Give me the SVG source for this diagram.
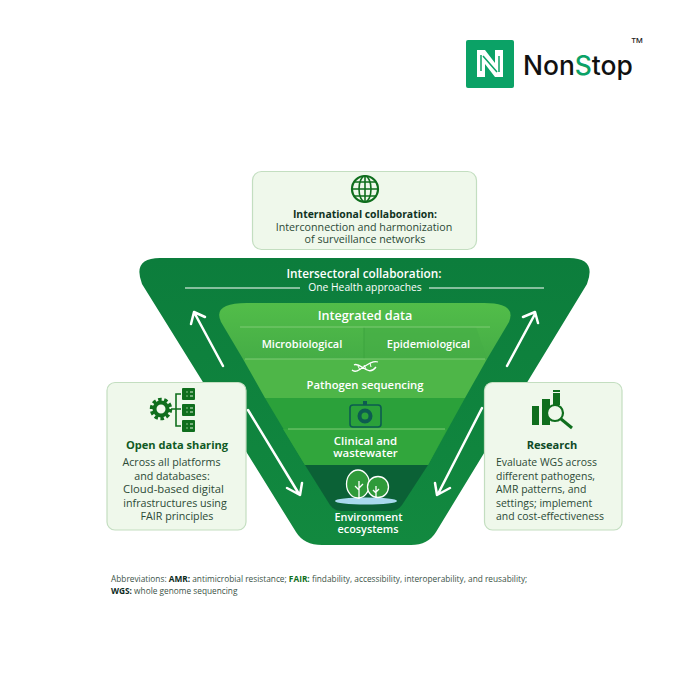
<svg xmlns="http://www.w3.org/2000/svg" width="682" height="686" viewBox="0 0 682 686">
<style>
text{font-family:"Open Sans","Noto Sans","Liberation Sans",sans-serif;text-anchor:middle}
.card{fill:#eff8eb;stroke:#c3dec0;stroke-width:1.2}
.ct{font-size:11.1px;font-weight:700;fill:#0f5a24}
.cb{font-size:10.7px;fill:#2c4a36}
.rs{font-size:10.45px;text-anchor:start}
.w{fill:#fff;font-weight:600}
.arrow{fill:none;stroke:#fff;stroke-width:2.5;stroke-linecap:round;stroke-linejoin:round}
.rule{stroke:#fff;stroke-width:1.2}
.sep{stroke:#7fcb74;stroke-width:1}
.ic{fill:none;stroke:#0f6e1d;stroke-width:1.6}
.srv{fill:#0f6e1d}
.ab{font-size:8.3px;text-anchor:start;fill:#3b5347}
.abb{font-weight:700;fill:#0c2a1c}
</style>
<defs>
<linearGradient id="outer" x1="0" y1="0" x2="0" y2="1"><stop offset="0" stop-color="#0c7d3c"/><stop offset="1" stop-color="#12893f"/></linearGradient>
<linearGradient id="top" x1="0" y1="0" x2="0" y2="1"><stop offset="0" stop-color="#52bd49"/><stop offset="1" stop-color="#45ad46"/></linearGradient>
<g id="srvd"><path d="M8 4H11M8 8H11" stroke="#dff0dc" stroke-width="1"/><path d="M4 4H6M4 8H6" stroke="#8cc58c" stroke-width="1"/></g>
</defs>
<rect width="682" height="686" fill="#fff"/>
<g id="logo">
<rect x="466" y="40" width="48" height="48" rx="2" fill="#0ba266"/>
<path d="M477 50H485L495 63V50H503V77H495L485 64V77H477Z" fill="#fff"/>
<path d="M481 55V71M499 56V72M483 56 497 72" fill="none" stroke="#0ba266" stroke-width="1.500"/>
<text x="523" y="75" font-size="26.400" font-weight="500" fill="#111" style="text-anchor:start;font-family:Inter,'Liberation Sans',sans-serif">Non<tspan fill="#0ba266">S</tspan>top</text>
<text x="637" y="47" font-size="13" fill="#222" style="font-family:'Liberation Sans',sans-serif">™</text>
</g>
<g id="intersectoral">
<path d="M160 258H569Q597 258 587 284L436 532Q428 545 411 545H322Q304 545 296 532L142 284Q132 258 160 258Z" fill="url(#outer)"/>
<text class="w" x="364" y="278" font-size="11.800">Intersectoral collaboration:</text>
<text x="365" y="291" font-size="10.300" fill="#fff">One Health approaches</text>
<path class="rule" d="M185 288H300M429 288H544"/>
</g>
<g id="environment">
<path d="M305 465H428L402 505Q398 511 390 511H342Q334 511 330 505Z" fill="#0b6136"/>
<text class="w" x="368.500" y="521" font-size="10.900">Environment</text>
<text class="w" x="368" y="533" font-size="10.900">ecosystems</text>
<g>
<ellipse cx="366" cy="501" rx="31" ry="3.600" fill="#a9d9ee"/>
<ellipse cx="358" cy="484" rx="11.500" ry="14" fill="#2f9a3a" stroke="#fff" stroke-width="1.300"/>
<circle cx="378" cy="487" r="10.500" fill="#2f9a3a" stroke="#fff" stroke-width="1.300"/>
<path d="M359 499V481M359 490l-4-4M359 488l4-4M376 498V486M376 493l-3-3M376 492l3-3" stroke="#fff" stroke-width="1.300" fill="none"/>
</g>
</g>
<g id="clinical">
<path d="M265 398H465L428 465H305Z" fill="#2ba13a"/>
<path d="M283 429H447L428 465H305Z" fill="#31a63c"/>
<path class="sep" d="M288 429H445"/>
<text class="w" x="365.500" y="445" font-size="11.400">Clinical and</text>
<text class="w" x="365.500" y="457" font-size="11.400">wastewater</text>
<g fill="none" stroke="#0d5c50">
<rect x="350" y="405" width="31" height="22" rx="3" stroke-width="1.600"/>
<circle cx="365" cy="416" r="5.500" stroke-width="4"/>
<path d="M365 401v4" stroke-width="4"/>
</g>
</g>
<g id="sequencing">
<path d="M243 359H487L465 398H265Z" fill="#4eb648"/>
<text class="w" x="365" y="389" font-size="11.300">Pathogen sequencing</text>
<g fill="none" stroke="#fff" stroke-width="1.300">
<path d="M352 370C358 376 368 359 378 362M354 365C360 361 368 378 376 367"/>
<path d="M358 366l2 4M364 365l2 4M370 363l1 4" stroke-width="1"/>
</g>
</g>
<g id="integrated">
<path d="M247 303H484Q517 303 509 322L487 359H243L221 322Q212 303 247 303Z" fill="url(#top)"/>
<path d="M364 327H476L487 359H364Z" fill="#46ad45" opacity=".55"/>
<path d="M364 327V359" stroke="#3da43f" stroke-width="1"/>
<path class="sep" d="M240 327H490M245 359H485"/>
<text class="w" x="365" y="320" font-size="12.600">Integrated data</text>
<text class="w" x="302" y="348" font-size="11">Microbiological</text>
<text class="w" x="428.500" y="348" font-size="11">Epidemiological</text>
</g>
<g id="connectors">
<path class="arrow" d="M223 366 195 314M191 324 194 312 205 317"/>
<path class="arrow" d="M248 410 299 494M287 488 300 495 302 483"/>
<path class="arrow" d="M507 366 535 314M523 317 535 312 538 323"/>
<path class="arrow" d="M482 408 438 494M435 483 437 495 450 488"/>
</g>
<g id="international">
<rect class="card" x="252.500" y="171.500" width="224" height="78" rx="9"/>
<circle class="ic" cx="365" cy="189" r="13" style="stroke-width:2.200"/>
<ellipse class="ic" cx="365" cy="189" rx="6" ry="13"/>
<path class="ic" d="M365 176V202M352 189H378M354 182H376M354 196H376"/>
<text class="ct" x="365" y="218" style="fill:#10331f;font-size:10.400px">International collaboration:</text>
<text class="cb" x="364" y="231">Interconnection and harmonization</text>
<text class="cb" x="365" y="243">of surveillance networks</text>
</g>
<g id="open-data">
<rect class="card" x="107" y="382.500" width="139" height="147.500" rx="8"/>
<circle cx="161" cy="409" r="6.500" fill="none" stroke="#0f6e1d" stroke-width="4"/>
<circle cx="161" cy="409" r="9.500" fill="none" stroke="#0f6e1d" stroke-width="3.500" stroke-dasharray="3.500 2.450"/>
<path d="M171 409H176M181 394H176V426H181M176 409H181" fill="none" stroke="#0f6e1d" stroke-width="1.600"/>
<g class="srv">
<rect x="182" y="388" width="13" height="12" rx="1"/>
<rect x="182" y="404" width="13" height="12" rx="1"/>
<rect x="182" y="420" width="13" height="12" rx="1"/>
</g>
<use href="#srvd" x="182" y="388"/>
<use href="#srvd" x="182" y="404"/>
<use href="#srvd" x="182" y="420"/>
<text class="ct" x="177" y="449">Open data sharing</text>
<text class="cb" x="171.500" y="466">Across all platforms</text>
<text class="cb" x="172" y="479.500">and databases:</text>
<text class="cb" x="173.500" y="493" style="font-size:11.300px">Cloud-based digital</text>
<text class="cb" x="175" y="506.500">infrastructures using</text>
<text class="cb" x="177" y="520">FAIR principles</text>
</g>
<g id="research">
<rect class="card" x="484.500" y="382.500" width="137.500" height="147.500" rx="8"/>
<g fill="#0f6e1d">
<rect x="532" y="406" width="7" height="19"/>
<rect x="542" y="399" width="8" height="26"/>
<rect x="553" y="393" width="7" height="12"/>
<rect x="553" y="390" width="7" height="2"/>
</g>
<circle cx="555" cy="413" r="8" fill="#eff8eb" stroke="#0f6e1d" stroke-width="2.200"/>
<path d="M561 419 572 428" stroke="#0f6e1d" stroke-width="3"/>
<text class="ct" x="552" y="449" style="fill:#0e4a28">Research</text>
<text class="cb rs" x="496" y="466">Evaluate WGS across</text>
<text class="cb rs" x="496" y="479.500">different pathogens,</text>
<text class="cb rs" x="496" y="493">AMR patterns, and</text>
<text class="cb rs" x="496" y="506.500">settings; implement</text>
<text class="cb rs" x="496" y="520">and cost-effectiveness</text>
</g>
<g id="abbreviations">
<text class="ab" x="111" y="582">Abbreviations: <tspan class="abb">AMR:</tspan> antimicrobial resistance; <tspan class="abb" style="fill:#0f6e1d">FAIR:</tspan> findability, accessibility, interoperability, and reusability;</text>
<text class="ab" x="111" y="594"><tspan class="abb">WGS:</tspan> whole genome sequencing</text>
</g>
</svg>
